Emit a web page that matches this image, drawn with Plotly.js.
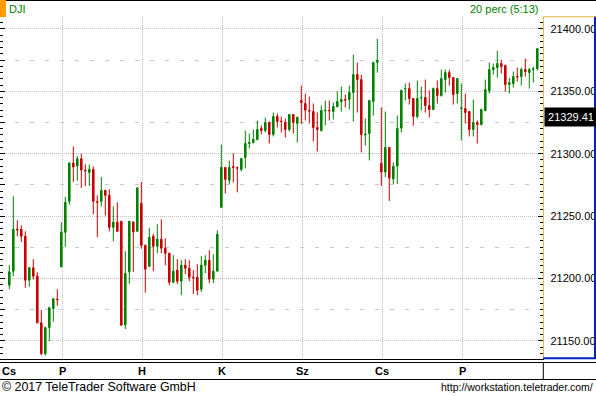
<!DOCTYPE html>
<html>
<head>
<meta charset="utf-8">
<script src="https://cdn.plot.ly/plotly-3.0.1.min.js"></script>
<style>html,body{margin:0;padding:0;background:#fff;}#chart{width:596px;height:396px;}</style>
</head>
<body>
<div id="chart"></div>
<script>
// ---- data (DJI, 20-minute candles) ----
const symbolName = 'DJI';
const periodText = '20 perc (5:13)';
const lastPriceLabel = 21329.41;
const dayLabels = ['Cs', 'P', 'H', 'K', 'Sz', 'Cs', 'P'];
const dayStartIdx = [13, 33, 53, 73, 93, 113];

const open = [21194.6,21205.8,21239.6,21239.4,21233.8,21198.6,21208.5,21201.8,21164.5,21139.7,21160.5,21175.9,21183.5,
21209.3,21237.0,21261.8,21292.5,21290.1,21295.9,21286.6,21285.0,21287.4,21261.5,21261.8,21270.6,21266.6,21241.0,21245.0,21245.8,21162.6,21205.3,21245.0,21237.8,
21260.2,21226.6,21209.8,21233.8,21225.8,21231.4,21224.2,21220.2,21197.0,21206.6,21197.8,21210.6,21208.2,21201.0,21201.0,21191.4,21210.6,21214.6,21199.4,21205.8,
21257.0,21289.0,21278.6,21289.6,21288.8,21287.4,21297.0,21308.2,21309.0,21311.4,21320.2,21318.6,21325.0,21315.4,21329.8,21326.2,21325.0,21319.4,21331.4,21324.2,
21342.6,21340.2,21334.6,21333.8,21321.0,21318.6,21334.4,21334.8,21333.8,21337.8,21341.8,21343.4,21343.4,21349.0,21363.4,21359.4,21315.0,21316.2,21341.8,21373.3,
21292.2,21285.3,21305.0,21279.7,21290.1,21320.5,21351.8,21352.2,21344.2,21329.8,21344.6,21345.0,21338.6,21335.4,21352.2,21346.6,21359.4,21365.0,21361.0,21348.2,
21336.2,21336.2,21333.8,21319.4,21325.0,21323.4,21334.6,21350.6,21367.4,21369.0,21372.2,21370.6,21355.4,21356.2,21362.0,21361.8,21367.4,21365.0,21367.6,21368.2];
const high = [21210.6,21265.8,21246.6,21242.6,21237.8,21209.3,21215.4,21205.0,21174.6,21161.3,21177.3,21184.2,21191.4,
21245.0,21265.3,21293.0,21305.8,21298.1,21299.9,21291.4,21291.4,21289.8,21266.6,21281.3,21271.1,21271.4,21257.8,21261.0,21246.0,21221.8,21246.0,21246.0,21273.3,
21277.3,21227.0,21240.5,21235.7,21243.4,21247.4,21232.2,21220.5,21218.6,21215.4,21214.6,21215.4,21214.6,21206.6,21211.4,21217.8,21218.6,21222.6,21219.4,21238.6,
21307.4,21289.2,21294.6,21300.2,21289.8,21296.4,21318.6,21316.2,21319.4,21326.6,21322.6,21329.0,21325.8,21333.0,21332.2,21329.8,21328.2,21331.6,21331.6,21329.8,
21354.6,21348.2,21345.8,21340.2,21333.0,21338.6,21342.6,21342.6,21341.0,21349.8,21353.8,21347.4,21354.6,21379.4,21373.0,21363.4,21328.2,21342.8,21373.8,21392.2,
21337.0,21333.8,21305.2,21293.0,21330.6,21351.4,21356.2,21357.0,21344.4,21358.6,21353.8,21359.4,21350.6,21353.0,21358.6,21367.4,21367.4,21367.4,21361.2,21360.4,
21356.2,21348.2,21334.0,21343.4,21326.6,21336.2,21359.4,21373.0,21372.2,21382.6,21375.4,21371.4,21361.0,21365.8,21369.0,21369.0,21376.2,21369.0,21369.8,21384.4];
const low = [21191.4,21201.8,21233.8,21229.3,21192.5,21193.3,21199.1,21163.9,21138.6,21138.1,21149.8,21165.3,21178.1,
21209.0,21225.3,21258.9,21277.3,21278.3,21272.5,21274.1,21274.1,21251.4,21233.0,21257.8,21250.6,21237.8,21229.8,21237.0,21161.8,21159.4,21195.7,21205.3,21237.3,
21223.9,21188.5,21209.0,21205.8,21220.2,21220.2,21210.6,21194.6,21196.2,21195.4,21186.6,21203.4,21197.8,21187.4,21186.6,21189.0,21204.2,21196.2,21196.2,21205.8,
21257.0,21268.2,21275.4,21277.0,21269.0,21285.8,21288.2,21304.2,21308.2,21310.6,21315.4,21317.0,21308.2,21313.8,21321.0,21317.0,21313.0,21317.8,21316.2,21309.0,
21323.9,21326.6,21324.2,21309.8,21301.8,21317.8,21322.6,21326.6,21327.4,21337.0,21333.8,21337.0,21335.4,21325.8,21333.0,21301.0,21306.6,21294.6,21330.6,21365.0,
21274.1,21281.3,21262.1,21275.7,21275.7,21317.0,21342.6,21339.4,21322.6,21328.2,21334.6,21333.0,21329.0,21335.2,21340.2,21345.8,21349.0,21354.6,21339.4,21340.2,
21310.6,21324.2,21313.8,21313.8,21308.2,21322.6,21333.8,21348.2,21363.4,21361.0,21364.2,21349.8,21348.2,21353.0,21357.8,21354.6,21361.8,21352.2,21357.0,21366.6];
const close = [21205.3,21239.4,21239.0,21233.8,21198.6,21208.5,21201.8,21164.5,21139.7,21160.5,21176.5,21183.7,21183.0,
21237.0,21261.0,21292.5,21289.3,21295.9,21286.9,21286.1,21287.4,21261.8,21261.0,21270.6,21266.6,21241.0,21245.0,21237.8,21162.6,21203.9,21245.8,21237.3,21272.5,
21226.6,21207.4,21233.0,21225.8,21231.4,21224.2,21220.2,21197.0,21205.8,21197.8,21210.6,21208.2,21201.0,21200.6,21190.6,21210.6,21214.6,21199.4,21205.8,21235.4,
21289.0,21279.4,21289.0,21289.0,21288.4,21296.2,21308.2,21309.0,21311.4,21319.4,21318.6,21325.0,21315.4,21329.8,21325.8,21325.8,21319.4,21331.4,21325.0,21329.0,
21341.0,21334.9,21334.2,21321.0,21319.4,21334.6,21334.8,21334.4,21337.8,21341.8,21343.4,21342.9,21349.0,21363.4,21359.4,21315.4,21315.6,21342.6,21373.0,21374.9,
21285.3,21305.0,21280.5,21289.8,21320.2,21350.6,21352.2,21344.2,21329.8,21344.2,21345.0,21338.6,21335.4,21352.2,21346.6,21360.2,21365.0,21361.0,21347.4,21360.2,
21336.6,21333.0,21319.4,21325.0,21323.4,21335.4,21351.4,21367.4,21369.0,21372.2,21369.8,21355.4,21357.0,21361.8,21361.6,21367.4,21365.8,21367.4,21368.0,21384.2];

// ---- derived ----
const idx = open.map((_, i) => i);
const gridPos = dayStartIdx.map(i => i + 0.25);
const labelPos = [-0.2].concat(gridPos);
const xRange = [-2.325, 133.5];
const yRange = [21135.4, 21409.8];

const W = 596, H = 396;
const px = v => v / W;            // pixel -> paper x
const py = v => 1 - v / H;        // pixel -> paper y
const plotRight = px(543.3);
const plotTop = py(16.7), plotBottom = py(359);

const trace = {
  type: 'candlestick', x: idx, open: open, high: high, low: low, close: close,
  xaxis: 'x', yaxis: 'y',
  increasing: {line: {color: '#008000', width: 1}, fillcolor: '#008000'},
  decreasing: {line: {color: '#c80000', width: 1}, fillcolor: '#c80000'},
  whiskerwidth: 0, hoverinfo: 'skip', showlegend: false
};
// invisible helper traces so the overlaying left-side axes (ticks / dashed grid) are rendered
const helper2 = {type: 'scatter', mode: 'markers', x: [idx[0]], y: [close[0]], xaxis: 'x', yaxis: 'y2',
  marker: {opacity: 0, size: 1}, hoverinfo: 'skip', showlegend: false};
const helper3 = {type: 'scatter', mode: 'markers', x: [idx[0]], y: [close[0]], xaxis: 'x', yaxis: 'y3',
  marker: {opacity: 0, size: 1}, hoverinfo: 'skip', showlegend: false};

const gridCol = '#c0c0c0';
const dayAnnotations = dayLabels.map((t, i) => ({
  xref: 'x', yref: 'paper', x: labelPos[i], y: py(371), xanchor: 'center', yanchor: 'middle',
  showarrow: false, text: '<b>' + t + '</b>', font: {size: 11, color: '#000'}
}));

const layout = {
  width: W, height: H, margin: {l: 0, r: 0, t: 0, b: 0, pad: 0},
  paper_bgcolor: '#fff', plot_bgcolor: '#fff',
  font: {family: 'Arial, "Liberation Sans", sans-serif', size: 11, color: '#000'},
  showlegend: false, boxgap: 0.45, hovermode: false,
  xaxis: {
    domain: [0, plotRight], range: xRange, anchor: 'y',
    rangeslider: {visible: false},
    tickmode: 'array', tickvals: gridPos, showticklabels: false, ticks: '',
    showgrid: true, gridcolor: gridCol, griddash: '1px,1px', gridwidth: 1,
    zeroline: false, showline: true, linecolor: '#000', linewidth: 1
  },
  yaxis: {
    domain: [plotBottom, plotTop], range: yRange, side: 'right', anchor: 'x',
    tick0: 0, dtick: 50, tickformat: '.2f',
    ticks: 'inside', ticklen: 5, tickcolor: '#000', tickwidth: 1,
    minor: {dtick: 5, ticks: 'inside', ticklen: 3, tickcolor: '#000', showgrid: false},
    showgrid: true, gridcolor: gridCol, griddash: '1px,1px', gridwidth: 1,
    zeroline: false, showline: true, linecolor: '#e8b84a', linewidth: 1,
    tickfont: {size: 11, color: '#000'}, ticklabelstandoff: 4
  },
  yaxis2: {
    overlaying: 'y', side: 'left', anchor: 'x', range: yRange,
    tick0: 21175, dtick: 50, showticklabels: false,
    ticks: 'inside', ticklen: 5, tickcolor: '#000',
    minor: {dtick: 5, ticks: 'inside', ticklen: 3, tickcolor: '#000', showgrid: false},
    showgrid: true, gridcolor: '#c8c8c8', griddash: '4px,11px', gridwidth: 1,
    zeroline: false, showline: false
  },
  yaxis3: {
    overlaying: 'y', side: 'left', anchor: 'x', range: yRange,
    tick0: 0, dtick: 50, showticklabels: false,
    ticks: 'inside', ticklen: 5, tickcolor: '#000',
    showgrid: false, zeroline: false, showline: false
  },
  shapes: [
    {type: 'line', xref: 'paper', yref: 'paper', x0: 0, x1: 1, y0: py(0.5), y1: py(0.5), line: {color: '#000', width: 1}},
    {type: 'rect', xref: 'paper', yref: 'paper', x0: 0, x1: px(6), y0: py(17), y1: 1, fillcolor: '#ff9c00', line: {width: 0}},
    {type: 'line', xref: 'paper', yref: 'paper', x0: plotRight, x1: 1, y0: plotTop, y1: plotTop, line: {color: '#e8b84a', width: 1}},
    {type: 'line', xref: 'paper', yref: 'paper', x0: px(595), x1: px(595), y0: plotBottom, y1: plotTop, line: {color: '#0020c0', width: 2}},
    {type: 'line', xref: 'paper', yref: 'paper', x0: plotRight, x1: 1, y0: py(358.3), y1: py(358.3), line: {color: '#0020c0', width: 2}},
    {type: 'line', xref: 'paper', yref: 'paper', x0: 0, x1: 1, y0: py(362.5), y1: py(362.5), line: {color: '#000', width: 1}},
    {type: 'line', xref: 'paper', yref: 'paper', x0: 0, x1: 1, y0: py(379.5), y1: py(379.5), line: {color: '#000', width: 1}},
    {type: 'line', xref: 'paper', yref: 'paper', x0: plotRight, x1: plotRight, y0: py(362.5), y1: py(379.5), line: {color: '#000', width: 1}}
  ],
  annotations: dayAnnotations.concat([
    {xref: 'paper', yref: 'paper', x: px(7), y: py(9), xanchor: 'left', yanchor: 'middle', showarrow: false,
     text: symbolName, font: {size: 11, color: '#008000'}},
    {xref: 'paper', yref: 'paper', x: px(540), y: py(9), xanchor: 'right', yanchor: 'middle', showarrow: false,
     text: periodText, font: {size: 11, color: '#008000'}},
    {xref: 'paper', yref: 'y', x: px(544), y: lastPriceLabel, xanchor: 'left', yanchor: 'middle', showarrow: false,
     text: lastPriceLabel.toFixed(2), font: {size: 11, color: '#fff'}, bgcolor: '#000', borderpad: 3, width: 46},
    {xref: 'paper', yref: 'paper', x: 0, y: py(386.5), xanchor: 'left', yanchor: 'middle', showarrow: false,
     text: '© 2017 TeleTrader Software GmbH', font: {size: 12.4, color: '#000'}},
    {xref: 'paper', yref: 'paper', x: px(595), y: py(386.5), xanchor: 'right', yanchor: 'middle', showarrow: false,
     text: 'http://workstation.teletrader.com/', font: {size: 10.5, color: '#000'}}
  ])
};

Plotly.newPlot('chart', [helper2, helper3, trace], layout, {displayModeBar: false, staticPlot: true});
</script>
</body>
</html>
